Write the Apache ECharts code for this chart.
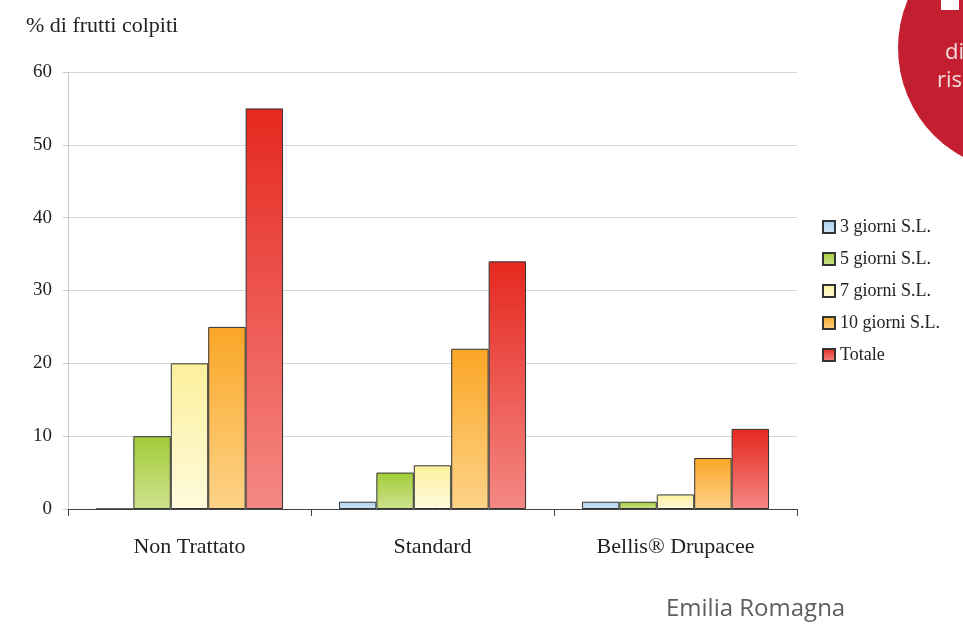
<!DOCTYPE html>
<html><head><meta charset="utf-8">
<script src="https://cdn.jsdelivr.net/npm/echarts@6/dist/echarts.min.js"></script>
<style>html,body{margin:0;padding:0;background:#fff}#c{width:963px;height:626px}</style>
</head><body><div id="c"></div>
<script>
const categories = ['Non Trattato', 'Standard', 'Bellis® Drupacee'];
const seriesNames = ['3 giorni S.L.', '5 giorni S.L.', '7 giorni S.L.', '10 giorni S.L.', 'Totale'];
const giorni3 = [0, 1, 1];
const giorni5 = [10, 5, 1];
const giorni7 = [20, 6, 2];
const giorni10 = [25, 22, 7];
const totale = [55, 34, 11];
const yTicks = [0, 10, 20, 30, 40, 50, 60];

const values = [giorni3, giorni5, giorni7, giorni10, totale];
const gradients = [
  ['#a9cfee', '#d3e8f8'],
  ['#a2cc38', '#cfe28e'],
  ['#fcf09c', '#fffadc'],
  ['#faa626', '#fdd388'],
  ['#e5281f', '#f58884']
];
const serif = '"Liberation Serif", "DejaVu Serif", serif';
const sans = '"Open Sans", "Liberation Sans", sans-serif';

const chart = echarts.init(document.getElementById('c'), null, {renderer: 'canvas'});
chart.setOption({
  animation: false,
  grid: {left: 68, right: 166, top: 72, bottom: 117},
  legend: {
    orient: 'vertical', left: 822, top: 218, padding: 0,
    itemWidth: 12, itemHeight: 12, itemGap: 14,
    icon: 'rect',
    textStyle: {fontFamily: serif, fontSize: 18, color: '#222'},
    data: seriesNames
  },
  xAxis: {
    type: 'category', data: categories,
    axisLine: {lineStyle: {color: '#444', width: 1}},
    axisTick: {show: true, length: 7, lineStyle: {color: '#444'}},
    axisLabel: {fontFamily: serif, fontSize: 22, color: '#222', margin: 27}
  },
  yAxis: {
    type: 'value', min: yTicks[0], max: yTicks[yTicks.length - 1], interval: 10,
    axisLine: {show: true, lineStyle: {color: '#c8c8c8'}},
    axisTick: {show: true, length: 5, lineStyle: {color: '#c8c8c8'}},
    splitLine: {lineStyle: {color: '#d6d6d6'}},
    axisLabel: {fontFamily: serif, fontSize: 19, color: '#222', margin: 16}
  },
  series: seriesNames.map((name, i) => ({
    name, type: 'bar', data: values[i],
    barGap: '0%', barCategoryGap: '23%',
    itemStyle: {
      color: new echarts.graphic.LinearGradient(0, 0, 0, 1, [
        {offset: 0, color: gradients[i][0]},
        {offset: 1, color: gradients[i][1]}
      ]),
      borderColor: '#333', borderWidth: 1
    }
  })),
  graphic: [
    {type: 'text', left: 26, top: 15, style: {text: '% di frutti colpiti', font: '22px ' + serif, fill: '#222'}},
    {type: 'circle', shape: {cx: 1022, cy: 48, r: 124}, style: {fill: '#c41f30'}, silent: true},
    {type: 'rect', shape: {x: 941, y: 0, width: 18, height: 10}, style: {fill: '#ffffff'}},
    {type: 'text', x: 945, y: 42, style: {text: 'di', font: '22px ' + sans, fill: '#f4dde0'}},
    {type: 'text', x: 937, y: 70, style: {text: 'ris', font: '22px ' + sans, fill: '#f4dde0'}},
    {type: 'text', x: 666, y: 597, style: {text: 'Emilia Romagna', font: '24px ' + sans, fill: '#5e5e5e'}}
  ]
});
</script>
</body></html>
